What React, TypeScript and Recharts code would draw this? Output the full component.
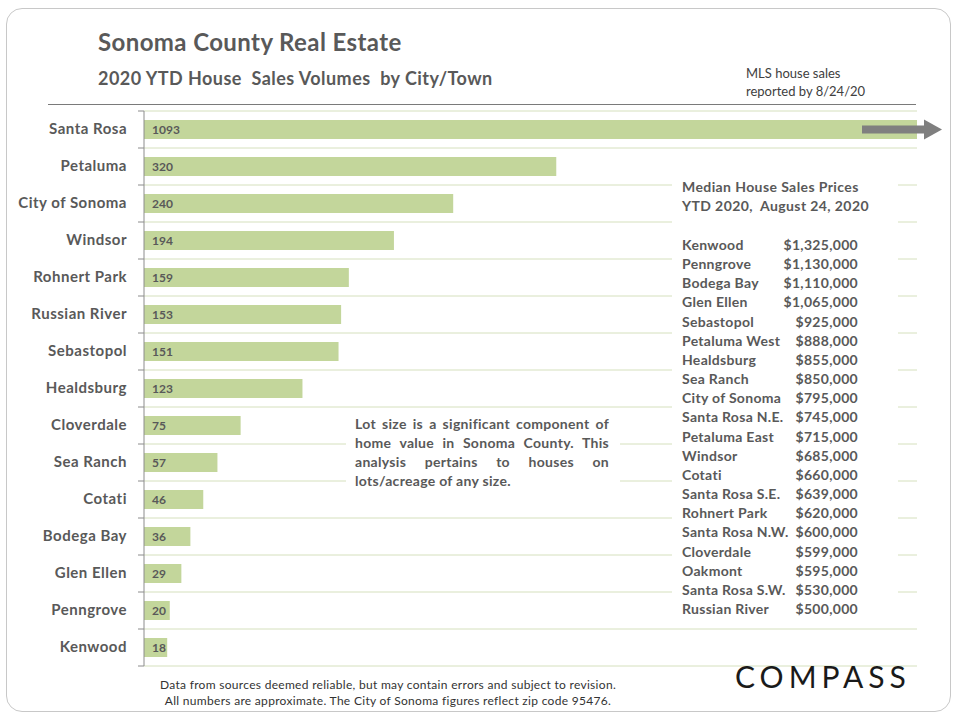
import React from 'react';
import { BarChart, Bar, XAxis, YAxis, CartesianGrid, LabelList, ReferenceDot } from 'recharts';

const cities = ['Santa Rosa', 'Petaluma', 'City of Sonoma', 'Windsor', 'Rohnert Park', 'Russian River', 'Sebastopol', 'Healdsburg', 'Cloverdale', 'Sea Ranch', 'Cotati', 'Bodega Bay', 'Glen Ellen', 'Penngrove', 'Kenwood'];
const sales = [1093, 320, 240, 194, 159, 153, 151, 123, 75, 57, 46, 36, 29, 20, 18];
const X_MAX = 600;

const priceAreas = ['Kenwood', 'Penngrove', 'Bodega Bay', 'Glen Ellen', 'Sebastopol', 'Petaluma West', 'Healdsburg', 'Sea Ranch', 'City of Sonoma', 'Santa Rosa N.E.', 'Petaluma East', 'Windsor', 'Cotati', 'Santa Rosa S.E.', 'Rohnert Park', 'Santa Rosa N.W.', 'Cloverdale', 'Oakmont', 'Santa Rosa S.W.', 'Russian River'];
const medianPrices = ['$1,325,000', '$1,130,000', '$1,110,000', '$1,065,000', '$925,000', '$888,000', '$855,000', '$850,000', '$795,000', '$745,000', '$715,000', '$685,000', '$660,000', '$639,000', '$620,000', '$600,000', '$599,000', '$595,000', '$530,000', '$500,000'];

const noteLines = ['Lot size is a significant component of', 'home value in Sonoma County. This', 'analysis pertains to houses on', 'lots/acreage of any size.'];

const data = cities.map((city, i) => ({ city, sales: sales[i] }));
const overflowCities = data.filter((d) => d.sales > X_MAX).map((d) => d.city);

const W = 960;
const H = 720;
const Y_W = 144;
const M = { top: 111, right: 43, bottom: 54, left: 0 };
const STEP = (H - M.top - M.bottom) / cities.length;

const TEXT = '#595959';
const FONT = 'Lato, "Open Sans", sans-serif';

const CityTick = (props: any) => {
  const { x, y, payload, index } = props;
  const last = index === cities.length - 1;
  return (
    <g>
      <line x1={Y_W - 6} x2={Y_W} y1={y - STEP / 2} y2={y - STEP / 2} stroke="#8c8c8c" />
      {last && <line x1={Y_W - 6} x2={Y_W} y1={y + STEP / 2} y2={y + STEP / 2} stroke="#8c8c8c" />}
      <text x={x} y={y} dy={-1.5} textAnchor="end" dominantBaseline="central" fill={TEXT} fontSize={15} fontWeight={700} fontFamily={FONT} letterSpacing={0.5}>
        {payload.value}
      </text>
    </g>
  );
};

const ArrowShape = (props: any) => {
  const { cx, cy } = props;
  return (
    <g>
      <rect x={cx - 55} y={cy - 4} width={62} height={8} fill="#7f7f7f" />
      <polygon points={`${cx + 7},${cy - 10} ${cx + 25},${cy} ${cx + 7},${cy + 10}`} fill="#7f7f7f" />
    </g>
  );
};

export default function App() {
  return (
    <div style={{ position: 'absolute', left: 0, top: 0, width: W, height: H, fontFamily: FONT, color: TEXT, background: '#fff' }}>
      <div style={{ position: 'absolute', left: 6, top: 8, width: 943, height: 702, border: '1px solid #c8c8c8', borderRadius: 16 }} />
      <BarChart width={W} height={H} data={data} layout="vertical" margin={M} style={{ position: 'absolute', left: 0, top: 0 }}>
        <CartesianGrid
          vertical={false}
          stroke="#d5e0bd"
          horizontalCoordinatesGenerator={({ offset }: any) =>
            Array.from({ length: cities.length + 1 }, (_, i) => offset.top + (i * offset.height) / cities.length)
          }
        />
        <XAxis type="number" domain={[0, X_MAX]} allowDataOverflow hide />
        <YAxis
          type="category"
          dataKey="city"
          width={Y_W}
          tickLine={false}
          tickSize={6}
          tickMargin={11}
          axisLine={{ stroke: '#8c8c8c' }}
          tick={<CityTick />}
          interval={0}
        />
        <Bar dataKey="sales" fill="#c3d69b" barSize={19} isAnimationActive={false}>
          <LabelList dataKey="sales" position="insideLeft" offset={8} fill={TEXT} fontSize={12} fontWeight={700} fontFamily={FONT} />
        </Bar>
        {overflowCities.map((c) => (
          <ReferenceDot key={c} x={X_MAX} y={c} ifOverflow="visible" shape={<ArrowShape />} />
        ))}
      </BarChart>

      <div style={{ position: 'absolute', left: 98, top: 27, fontSize: 24, fontWeight: 700, letterSpacing: 0.4, lineHeight: '30px', whiteSpace: 'nowrap' }}>
        Sonoma County Real Estate
      </div>
      <div style={{ position: 'absolute', left: 98, top: 66, fontSize: 18, fontWeight: 700, letterSpacing: 0.45, lineHeight: '24px', whiteSpace: 'pre' }}>
        {'2020 YTD House  Sales Volumes  by City/Town'}
      </div>
      <div style={{ position: 'absolute', left: 746, top: 63.5, fontSize: 13, lineHeight: '18px', color: '#404040', whiteSpace: 'nowrap' }}>
        <div>MLS house sales</div>
        <div>reported by 8/24/20</div>
      </div>
      <div style={{ position: 'absolute', left: 48, top: 103.5, width: 868, height: 1.5, background: '#7a7a7a' }} />

      <div style={{ position: 'absolute', left: 346, top: 409, width: 274, height: 90, background: '#fff' }} />
      <div style={{ position: 'absolute', left: 355, top: 414, width: 254, fontSize: 14, fontWeight: 700, letterSpacing: 0.3, lineHeight: '19px' }}>
        {noteLines.map((l, i) => (
          <div
            key={i}
            style={{ whiteSpace: 'nowrap', textAlign: i < noteLines.length - 1 ? 'justify' : 'left', textAlignLast: i < noteLines.length - 1 ? 'justify' : 'left' } as any}
          >
            {l}
          </div>
        ))}
      </div>

      <div style={{ position: 'absolute', left: 672, top: 172, width: 226, height: 450, background: '#fff' }} />
      <div style={{ position: 'absolute', left: 682, top: 177, fontSize: 14, fontWeight: 700, letterSpacing: 0.4, lineHeight: '19px', whiteSpace: 'pre' }}>
        <div>Median House Sales Prices</div>
        <div>{'YTD 2020,  August 24, 2020'}</div>
      </div>
      <div style={{ position: 'absolute', left: 682, top: 235, width: 176, fontSize: 14, fontWeight: 700, letterSpacing: 0.3, lineHeight: '19.15px' }}>
        {priceAreas.map((a, i) => (
          <div key={a} style={{ display: 'flex', justifyContent: 'space-between', whiteSpace: 'nowrap' }}>
            <span>{a}</span>
            <span>{medianPrices[i]}</span>
          </div>
        ))}
      </div>

      <div style={{ position: 'absolute', left: 735, top: 656, fontSize: 30, fontWeight: 400, letterSpacing: 5, color: '#1a1a1a', lineHeight: '40px', whiteSpace: 'nowrap' }}>
        COMPASS
      </div>

      <div style={{ position: 'absolute', left: 100, top: 677, width: 576, textAlign: 'center', fontSize: 12, letterSpacing: 0.3, lineHeight: '16px', color: '#333' }}>
        <div>Data from sources deemed reliable, but may contain errors and subject to revision.</div>
        <div>All numbers are approximate.  The City of Sonoma figures reflect zip code 95476.</div>
      </div>
    </div>
  );
}
